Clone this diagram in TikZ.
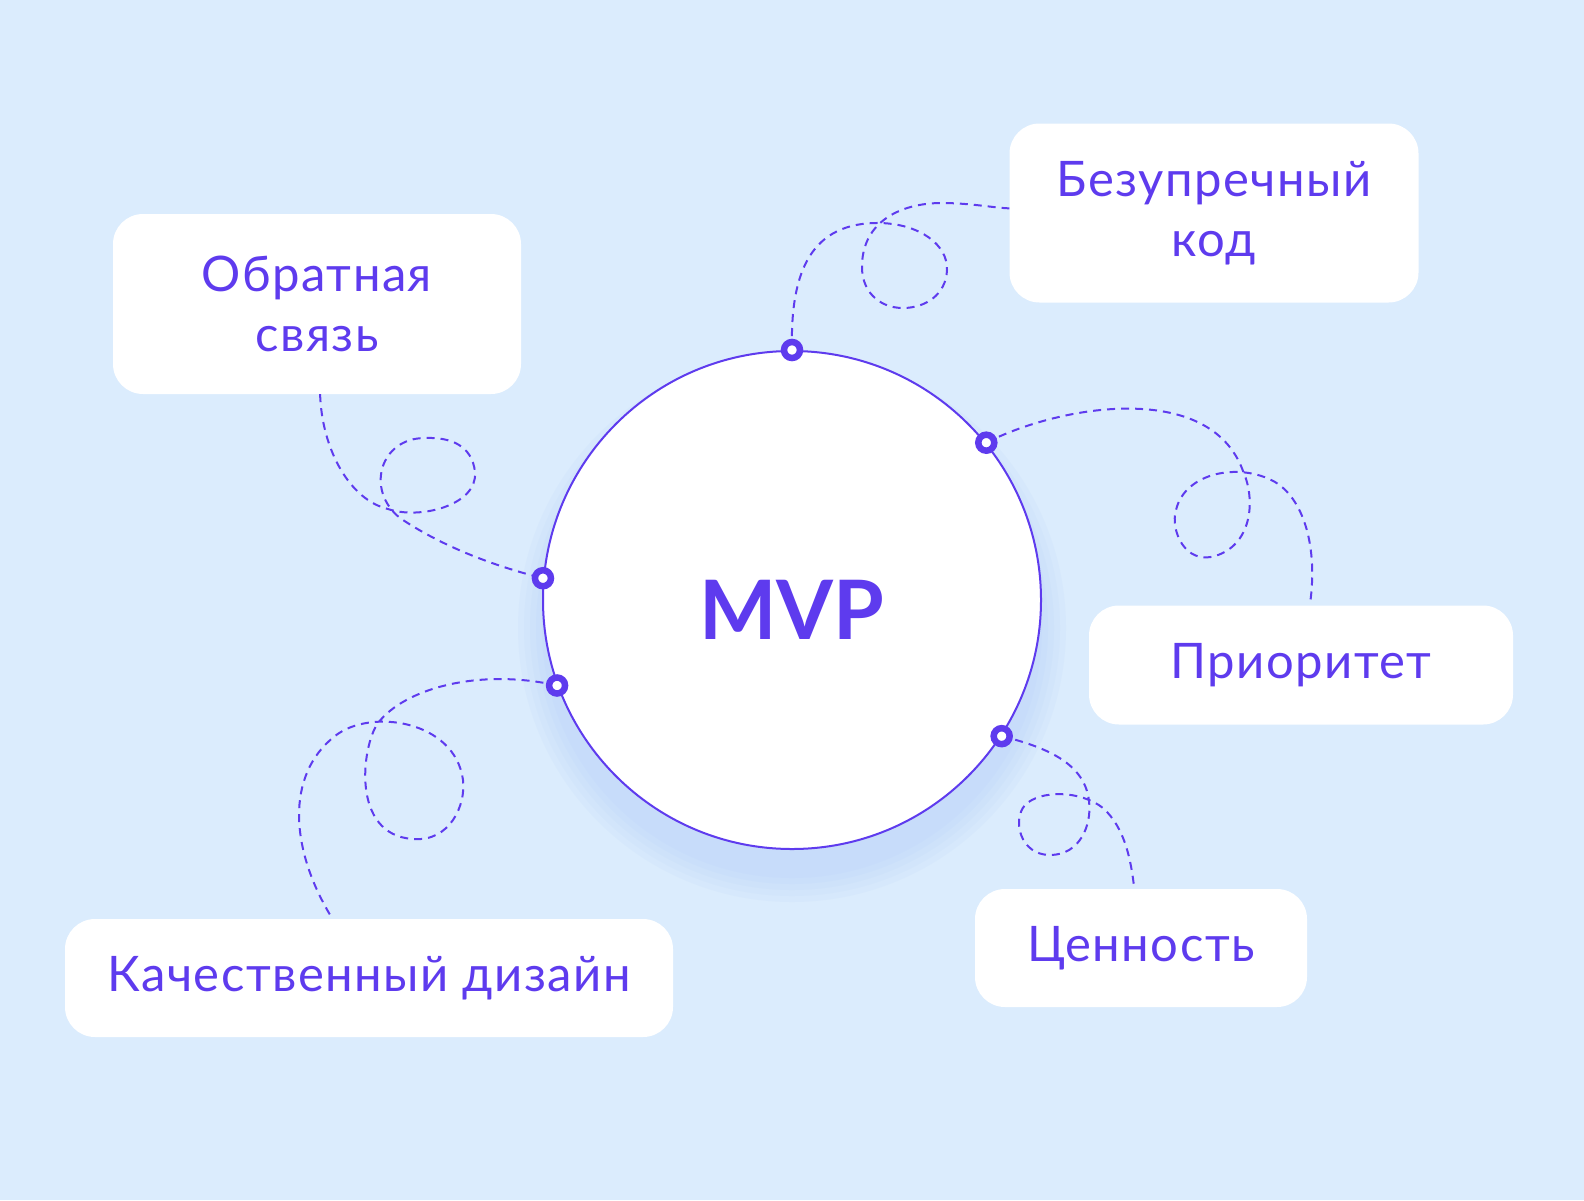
\documentclass[tikz,border=0pt]{standalone}
\usepackage{xcolor}
\usepackage{fontspec}
\setmainfont{Lato}[LetterSpace=3]
\newfontfamily\mvpfont{Lato}
\usepackage{tikz}

\definecolor{bgblue}{RGB}{219,236,253}
\definecolor{glowblue}{RGB}{170,200,250}
\definecolor{violet}{RGB}{94,59,238}

\tikzset{
  card/.style={fill=white, rounded corners=30pt, inner sep=0pt, align=center,
    text=violet, font=\fontsize{49pt}{60pt}\selectfont},
  ring/.style={circle, draw=violet, line width=6.5pt, fill=white, minimum size=16pt, inner sep=0pt},
  link/.style={draw=violet, line width=2pt, dash pattern=on 8pt off 6pt},
}

\begin{document}
\begin{tikzpicture}[x=1pt,y=-1pt]
\useasboundingbox (0,0) rectangle (1584,1200);
\fill [bgblue] (0,0) rectangle (1584,1200);
%Glow
\foreach \r in {250,256,262,268,274}
  \fill [glowblue, opacity=0.09] (792,628) circle (\r);
\node [circle, draw=violet, line width=2pt, fill=white, minimum size=498pt, inner sep=0pt] (mvp) at (792,600) {};
\node [text=violet, font=\mvpfont\fontsize{82pt}{82pt}\selectfont\bfseries] (mvptext) at (792,610) {MVP};
\coordinate (pT) at (mvp.90);
\coordinate (pUR) at (mvp.39);
\coordinate (pUL) at (mvp.175);
\coordinate (pLL) at (mvp.200);
\coordinate (pLR) at (mvp.327);
%Cards
\node [card, minimum width=408pt, minimum height=180pt] (obr) at (317,304) {Обратная\\связь};
\node [card, minimum width=409pt, minimum height=179pt] (bez) at (1214,213) {Безупречный\\код};
\node [card, minimum width=424pt, minimum height=119pt] (pri) at (1301,665) {Приоритет};
\node [card, minimum width=332pt, minimum height=118pt] (cen) at (1141,948) {Ценность};
\node [card, minimum width=608pt, minimum height=118pt] (kach) at (369,978) {Качественный дизайн};
%Links
\draw [link] (pT) .. controls (790,270) and (812,222) .. (880,223) .. controls (920,224) and (948,245) .. (947,270) .. controls (946,295) and (925,308) .. (903,308) .. controls (878,308) and (861,290) .. (862,265) .. controls (863,222) and (900,203) .. (942,203) .. controls (970,203) and (995,208) .. (bez);
\draw [link] (pUR) .. controls (1060,405) and (1210,380) .. (1243,471) .. controls (1256,500) and (1252,545) .. (1215,556) .. controls (1185,565) and (1170,530) .. (1176,510) .. controls (1185,472) and (1240,462) .. (1275,482) .. controls (1305,500) and (1318,550) .. (pri);
\draw [link] (obr) .. controls (322,450) and (350,500) .. (388,509) .. controls (420,520) and (478,505) .. (475,472) .. controls (472,445) and (450,437) .. (425,438) .. controls (380,438) and (365,490) .. (400,518) .. controls (440,545) and (490,565) .. (pUL);
\draw [link] (pLL) .. controls (480,668) and (405,688) .. (378,723) .. controls (362,745) and (350,835) .. (413,839) .. controls (450,842) and (466,805) .. (463,780) .. controls (455,720) and (370,708) .. (335,736) .. controls (285,775) and (290,850) .. (kach);
\draw [link] (pLR) .. controls (1050,748) and (1085,765) .. (1089,801) .. controls (1092,825) and (1080,855) .. (1050,855) .. controls (1020,855) and (1012,820) .. (1025,805) .. controls (1040,790) and (1080,790) .. (1103,808) .. controls (1125,828) and (1131,860) .. (cen);
%Rings
\node [ring] (dotT) at (pT) {};
\node [ring] (dotUR) at (pUR) {};
\node [ring] (dotUL) at (pUL) {};
\node [ring] (dotLL) at (pLL) {};
\node [ring] (dotLR) at (pLR) {};
\end{tikzpicture}
\end{document}
